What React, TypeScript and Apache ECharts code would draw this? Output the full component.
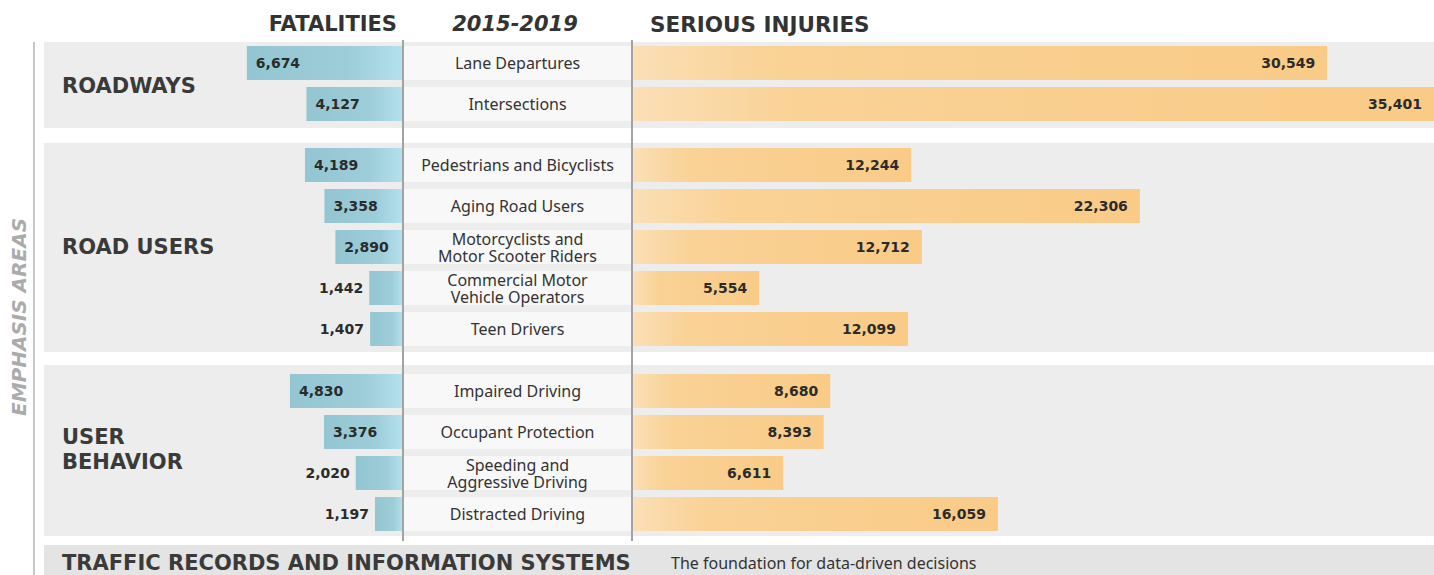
import React, { useEffect, useRef } from 'react';
import * as echarts from 'echarts';

// ---------- data ----------
const groupNames = ['ROADWAYS', 'ROAD USERS', 'USER\nBEHAVIOR'];

const roadwaysCategories = ['Lane Departures', 'Intersections'];
const roadwaysFatalities = [6674, 4127];
const roadwaysInjuries = [30549, 35401];

const roadUsersCategories = [
  'Pedestrians and Bicyclists',
  'Aging Road Users',
  'Motorcyclists and\nMotor Scooter Riders',
  'Commercial Motor\nVehicle Operators',
  'Teen Drivers',
];
const roadUsersFatalities = [4189, 3358, 2890, 1442, 1407];
const roadUsersInjuries = [12244, 22306, 12712, 5554, 12099];

const behaviorCategories = [
  'Impaired Driving',
  'Occupant Protection',
  'Speeding and\nAggressive Driving',
  'Distracted Driving',
];
const behaviorFatalities = [4830, 3376, 2020, 1197];
const behaviorInjuries = [8680, 8393, 6611, 16059];

const headerFatalities = 'FATALITIES';
const headerYears = '2015-2019';
const headerInjuries = 'SERIOUS INJURIES';
const sideTitle = 'EMPHASIS AREAS';
const footerTitle = 'TRAFFIC RECORDS AND INFORMATION SYSTEMS';
const footerNote = 'The foundation for data-driven decisions';

// axis scales (fatalities grow leftwards, injuries rightwards; injury axis is cut at the page edge)
const fatalityAxisMax = 10000;
const injuryAxisMax = 35250;

// ---------- layout / style ----------
const ROW = 41;
const BAR = 34;
const BOLD = "'DejaVu Sans', sans-serif";
const LIGHT = "'Noto Sans', sans-serif";
const DARK = '#3a3a3a';
const GROUP_BG = '#ecedec';
const CELL_BG = '#f8f8f8';

const groupLayout = [
  { top: 42.5, bgTop: 42, bgH: 86, labelY: 86 },
  { top: 144.5, bgTop: 143, bgH: 209, labelY: 247 },
  { top: 370.5, bgTop: 365, bgH: 171, labelY: 449.5 },
];

const fmt = (v: number) => v.toLocaleString('en-US');

export default function App() {
  const ref = useRef<HTMLDivElement>(null);

  useEffect(() => {
    document.body.style.margin = '0';
    if (!ref.current) return;
    const chart = echarts.init(ref.current, undefined, { renderer: 'svg' });

    const groups = [
      { cats: roadwaysCategories, fat: roadwaysFatalities, inj: roadwaysInjuries },
      { cats: roadUsersCategories, fat: roadUsersFatalities, inj: roadUsersInjuries },
      { cats: behaviorCategories, fat: behaviorFatalities, inj: behaviorInjuries },
    ];

    const grid: any[] = [];
    const xAxis: any[] = [];
    const yAxis: any[] = [];
    const series: any[] = [];
    const graphic: any[] = [];

    const fatColor = new echarts.graphic.LinearGradient(0, 0, 1, 0, [
      { offset: 0, color: '#93c6d2' },
      { offset: 0.65, color: '#9dcdd8' },
      { offset: 1, color: '#b3e1ed' },
    ]);
    const injColor = new echarts.graphic.LinearGradient(0, 0, 1, 0, [
      { offset: 0, color: '#fbdfb6' },
      { offset: 0.2, color: '#f9d296' },
      { offset: 1, color: '#f9cb87' },
    ]);

    const numLabel = {
      show: true,
      fontFamily: BOLD,
      fontWeight: 'bold',
      fontSize: 14,
      color: '#2b2b2b',
      formatter: (p: any) => fmt(p.value),
    };

    groups.forEach((g, i) => {
      const L = groupLayout[i];
      const h = g.cats.length * ROW;
      const base = i * 3;
      grid.push({ left: 169, top: L.top, width: 234, height: h });
      grid.push({ left: 404, top: L.top, width: 227, height: h });
      grid.push({ left: 633, top: L.top, right: 0, height: h });
      xAxis.push({ type: 'value', gridIndex: base, min: 0, max: fatalityAxisMax, inverse: true, show: false });
      xAxis.push({ type: 'value', gridIndex: base + 1, min: 0, max: 1, show: false });
      xAxis.push({ type: 'value', gridIndex: base + 2, min: 0, max: injuryAxisMax, show: false });
      for (let k = 0; k < 3; k++) {
        yAxis.push({ type: 'category', gridIndex: base + k, data: g.cats, inverse: true, show: false });
      }
      series.push({
        type: 'bar',
        xAxisIndex: base,
        yAxisIndex: base,
        barWidth: BAR,
        silent: true,
        itemStyle: { color: fatColor },
        label: numLabel,
        data: g.fat.map((v) => ({
          value: v,
          label: v > 2500 ? { position: 'insideLeft', distance: 9 } : { position: 'left', distance: 6 },
        })),
      });
      series.push({
        type: 'bar',
        xAxisIndex: base + 1,
        yAxisIndex: base + 1,
        barWidth: BAR,
        silent: true,
        itemStyle: { color: CELL_BG },
        label: {
          show: true,
          position: 'inside',
          formatter: '{b}',
          fontFamily: LIGHT,
          fontSize: 16,
          lineHeight: 17,
          color: '#333',
        },
        data: g.cats.map(() => 1),
      });
      series.push({
        type: 'bar',
        xAxisIndex: base + 2,
        yAxisIndex: base + 2,
        barWidth: BAR,
        silent: true,
        clip: true,
        itemStyle: { color: injColor },
        label: { ...numLabel, position: 'insideRight', distance: 12 },
        data: g.inj,
      });

      graphic.push({
        type: 'rect',
        z: -10,
        shape: { x: 44, y: L.bgTop, width: 1400, height: L.bgH },
        style: { fill: GROUP_BG },
      });
      graphic.push({
        type: 'text',
        x: 62,
        y: L.labelY,
        style: {
          text: groupNames[i],
          fontFamily: BOLD,
          fontWeight: 'bold',
          fontSize: 21,
          lineHeight: 25,
          fill: DARK,
          align: 'left',
          verticalAlign: 'middle',
        },
      });
    });

    // footer band
    graphic.push({
      type: 'rect',
      z: -10,
      shape: { x: 44, y: 545, width: 1400, height: 40 },
      style: { fill: '#e4e4e4' },
    });
    graphic.push({
      type: 'text',
      x: 62,
      y: 563,
      style: {
        text: footerTitle,
        fontFamily: BOLD,
        fontWeight: 'bold',
        fontSize: 21,
        fill: DARK,
        align: 'left',
        verticalAlign: 'middle',
      },
    });
    graphic.push({
      type: 'text',
      x: 671,
      y: 563,
      style: { text: footerNote, fontFamily: LIGHT, fontSize: 16, fill: '#333', align: 'left', verticalAlign: 'middle' },
    });

    // headers
    graphic.push({
      type: 'text',
      x: 397,
      y: 24,
      style: { text: headerFatalities, fontFamily: BOLD, fontWeight: 'bold', fontSize: 21, fill: '#333', align: 'right', verticalAlign: 'middle' },
    });
    graphic.push({
      type: 'text',
      x: 515,
      y: 24,
      style: { text: headerYears, fontFamily: BOLD, fontWeight: 'bold', fontStyle: 'italic', fontSize: 21, fill: '#333', align: 'center', verticalAlign: 'middle' },
    });
    graphic.push({
      type: 'text',
      x: 650,
      y: 24,
      style: { text: headerInjuries, fontFamily: BOLD, fontWeight: 'bold', fontSize: 21.5, fill: '#333', align: 'left', verticalAlign: 'middle' },
    });

    // side title and rule
    graphic.push({
      type: 'line',
      z: 50,
      shape: { x1: 34, y1: 42, x2: 34, y2: 580 },
      style: { stroke: '#c8c8c8', lineWidth: 2 },
    });
    graphic.push({
      type: 'text',
      x: 19,
      y: 317,
      rotation: Math.PI / 2,
      style: { text: sideTitle, fontFamily: BOLD, fontWeight: 'bold', fontStyle: 'italic', fontSize: 20, fill: '#ababab', align: 'center', verticalAlign: 'middle' },
    });

    // column separators
    [403, 632].forEach((x) => {
      graphic.push({
        type: 'line',
        z: 50,
        shape: { x1: x, y1: 40, x2: x, y2: 541 },
        style: { stroke: '#a3a3a3', lineWidth: 2 },
      });
    });

    chart.setOption({
      animation: false,
      backgroundColor: '#ffffff',
      grid,
      xAxis,
      yAxis,
      series,
      graphic: { elements: graphic },
    });

    return () => chart.dispose();
  }, []);

  return <div ref={ref} style={{ width: 1434, height: 575, overflow: 'hidden' }} />;
}
